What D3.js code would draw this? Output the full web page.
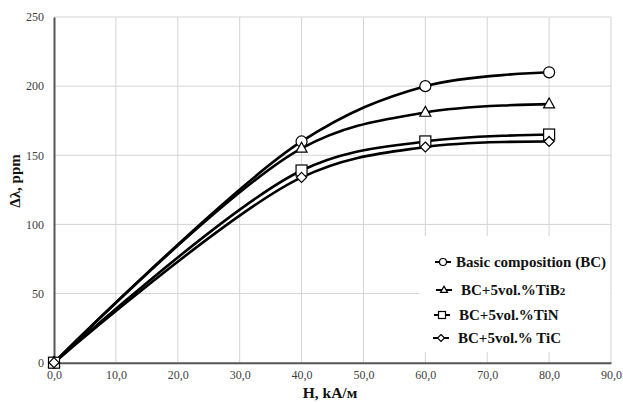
<!DOCTYPE html>
<html><head><meta charset="utf-8">
<script src="https://cdn.jsdelivr.net/npm/d3@7/dist/d3.min.js"></script>
<style>body{margin:0;background:#fff}svg{display:block}
svg text{font-family:"Liberation Serif","Times New Roman","DejaVu Serif",serif;}</style>
</head><body>
<svg id="c" width="623" height="403"></svg>
<script>
const xValues = [0, 40, 60, 80];
const seriesNames = ["Basic composition (BC)", "BC+5vol.%TiB2", "BC+5vol.%TiN", "BC+5vol.% TiC"];
const bcValues   = [0, 160, 200, 210];
const tib2Values = [0, 155, 181, 187];
const tinValues  = [0, 139, 160, 165];
const ticValues  = [0, 134, 156, 160];
const xTicks = [0,10,20,30,40,50,60,70,80,90];
const yTicks = [0,50,100,150,200,250];
const markerTypes = ["circle","triangle","square","diamond"];
const allSeries = [bcValues, tib2Values, tinValues, ticValues];

const svg = d3.select("#c");
const L=54, R=611, T=17, B=362.7;
const x = d3.scaleLinear().domain([0,90]).range([L,R]);
const y = d3.scaleLinear().domain([0,250]).range([B,T]);

// gridlines
svg.append("g").selectAll("line.v").data(xTicks.slice(1)).join("line")
  .attr("x1",d=>x(d)).attr("x2",d=>x(d)).attr("y1",T).attr("y2",B)
  .attr("stroke","#d4d4d4").attr("stroke-width",1);
svg.append("g").selectAll("line.h").data(yTicks.slice(1)).join("line")
  .attr("x1",L).attr("x2",R).attr("y1",d=>y(d)).attr("y2",d=>y(d))
  .attr("stroke","#d4d4d4").attr("stroke-width",1);

// axes
const xAxis = d3.axisBottom(x).tickValues(xTicks).tickSize(0).tickPadding(8)
  .tickFormat(d=>d3.format(".1f")(d).replace(".",","));
const gx = svg.append("g").attr("transform",`translate(0,${B})`).call(xAxis);
gx.attr("font-family",null);
gx.select(".domain").attr("stroke","#555").attr("stroke-width",2);
gx.selectAll("text").attr("font-size",12).attr("fill","#404040");

const yAxis = d3.axisLeft(y).tickValues(yTicks).tickSize(0).tickPadding(10);
const gy = svg.append("g").attr("transform",`translate(${L},0)`).call(yAxis);
gy.attr("font-family",null);
gy.select(".domain").attr("stroke","#555").attr("stroke-width",2);
gy.selectAll("text").attr("font-size",12).attr("fill","#404040");

// lines
const line = d3.line().x((d,i)=>x(xValues[i])).y(d=>y(d)).curve(d3.curveCatmullRom.alpha(0.5));
allSeries.forEach(s=>{
  svg.append("path").datum(s).attr("d",line).attr("fill","none")
    .attr("stroke","#000").attr("stroke-width",2.6);
});

function marker(g, type, cx, cy, s){
  let el;
  if(type==="circle") el = g.append("circle").attr("cx",cx).attr("cy",cy).attr("r",s);
  else if(type==="triangle") el = g.append("path").attr("d",`M${cx},${cy-s*1.1}L${cx+s},${cy+s*0.7}L${cx-s},${cy+s*0.7}Z`);
  else if(type==="square") el = g.append("rect").attr("x",cx-s).attr("y",cy-s).attr("width",2*s).attr("height",2*s);
  else el = g.append("path").attr("d",`M${cx},${cy-s}L${cx+s},${cy}L${cx},${cy+s}L${cx-s},${cy}Z`);
  el.attr("fill","#fff").attr("stroke","#000").attr("stroke-width",1.2);
}
const mg = svg.append("g");
allSeries.forEach((s,k)=>{
  s.forEach((v,i)=>marker(mg, markerTypes[k], x(xValues[i]), y(v), k===3?5:5.5));
});

// legend
const lg = svg.append("g");
lg.append("rect").attr("x",419).attr("y",236).attr("width",191).attr("height",116).attr("fill","#fff");
const legY = [262, 290, 315, 338];
const legMX = [443, 444, 442, 441];
const legTX = [456, 461, 459, 458];
seriesNames.forEach((n,k)=>{
  lg.append("line").attr("x1",legMX[k]-8).attr("x2",legMX[k]+8).attr("y1",legY[k]).attr("y2",legY[k])
    .attr("stroke","#000").attr("stroke-width",2);
  marker(lg, markerTypes[k], legMX[k], legY[k], 3.5);
  const t = lg.append("text").attr("x",legTX[k]).attr("y",legY[k]+5)
    .attr("font-size",15).attr("font-weight","bold").attr("fill","#111");
  if(k===1){ t.text("BC+5vol.%TiB"); t.append("tspan").attr("font-size",11).text("2"); }
  else t.text(n);
});

// axis titles
svg.append("text").attr("transform","translate(20,181) rotate(-90)").attr("text-anchor","middle")
  .attr("font-size",15).attr("font-weight","bold").attr("fill","#111").text("Δλ, ppm");
svg.append("text").attr("x",330).attr("y",398).attr("text-anchor","middle")
  .attr("font-size",15.5).attr("font-weight","bold").attr("fill","#111").text("H, kA/м");
</script>
</body></html>
